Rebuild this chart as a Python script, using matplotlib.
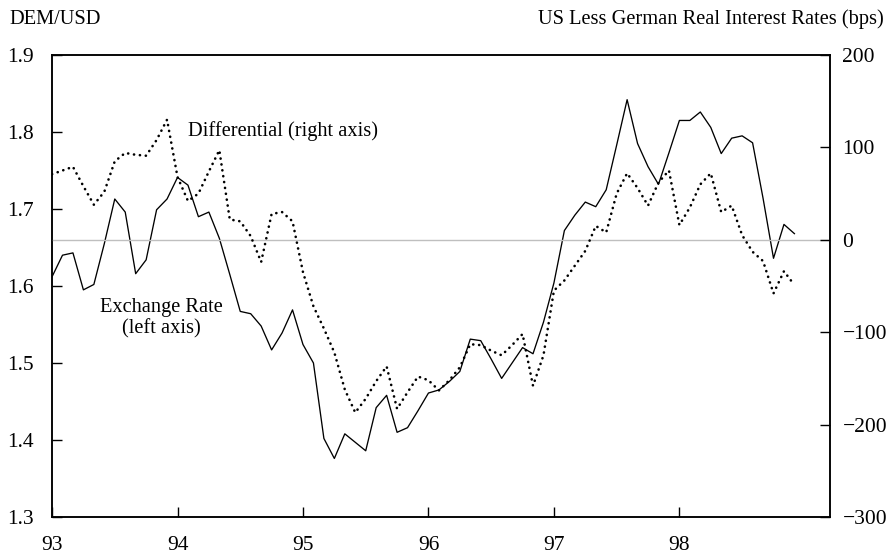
import numpy as np
import matplotlib
matplotlib.use("Agg")
import matplotlib.pyplot as plt

plt.rcParams['font.family'] = ['Liberation Serif', 'DejaVu Serif']

# monthly observations, Jan 1993 - Dec 1998
start_year = 93
months = np.arange(72)

# DEM/USD exchange rate (left axis)
exchange_rate = [
    1.612, 1.640, 1.643, 1.595, 1.602, 1.655, 1.713, 1.696, 1.616, 1.634, 1.699, 1.713,
    1.741, 1.731, 1.690, 1.696, 1.662, 1.615, 1.567, 1.564, 1.548, 1.517, 1.539, 1.569,
    1.524, 1.500, 1.402, 1.376, 1.408, 1.397, 1.386, 1.442, 1.458, 1.410, 1.416, 1.438,
    1.461, 1.465, 1.476, 1.489, 1.531, 1.529, 1.505, 1.480, 1.500, 1.520, 1.512, 1.553,
    1.604, 1.672, 1.692, 1.709, 1.703, 1.725, 1.783, 1.842, 1.785, 1.755, 1.732, 1.773,
    1.815, 1.815, 1.826, 1.806, 1.772, 1.792, 1.795, 1.786, 1.714, 1.636, 1.680, 1.668,
]

# US less German real interest rates, bps (right axis)
differential = [
    71, 75, 79, 58, 38, 52, 85, 94, 92, 91, 108, 130,
    68, 42, 50, 74, 97, 22, 20, 4, -24, 28, 30, 20,
    -35, -72, -96, -122, -162, -187, -172, -153, -137, -183, -165, -148,
    -152, -163, -152, -138, -113, -114, -120, -125, -114, -102, -158, -125,
    -55, -44, -28, -12, 15, 8, 50, 72, 56, 37, 62, 75,
    16, 35, 60, 72, 30, 37, 5, -13, -23, -58, -34, -49,
]

year_ticks = [93, 94, 95, 96, 97, 98]
left_ticks = [1.3, 1.4, 1.5, 1.6, 1.7, 1.8, 1.9]
right_ticks = [-300, -200, -100, 0, 100, 200]

x = start_year + months / 12.0

fig = plt.figure(figsize=(8.91, 5.54), dpi=100)
ax = fig.add_axes([0.0584, 0.0668, 0.8731, 0.8339])
ax2 = ax.twinx()

# zero line of the differential
ax2.axhline(0, color='#bfbfbf', lw=1.0, zorder=1)

ax.plot(x, exchange_rate, color='black', lw=0.95, zorder=3)
ax2.plot(x, differential, color='black', lw=1.9,
         linestyle=(0, (0.05, 2.2)), dash_capstyle='round', zorder=3)

ax.set_xlim(93, 99.2)
ax.set_ylim(1.3, 1.9)
ax2.set_ylim(-300, 200)

ax.set_xticks(year_ticks)
ax.set_xticklabels([str(y) for y in year_ticks])
ax.set_yticks(left_ticks)
ax.set_yticklabels(['%.1f' % v for v in left_ticks])
ax2.set_yticks(right_ticks)
ax2.set_yticklabels([('\u2212%d' % -v) if v < 0 else str(v) for v in right_ticks])

ax.tick_params(axis='x', direction='in', length=7, width=1, pad=14, labelsize=15.5)
ax.tick_params(axis='y', direction='in', length=7, width=1, pad=13, labelsize=15.5)
ax2.tick_params(axis='y', direction='in', length=7, width=1, pad=9, labelsize=15.5)
for lab in ax2.get_yticklabels():
    lab.set_ha('left')

for a in (ax, ax2):
    for s in a.spines.values():
        s.set_linewidth(1.1)
        s.set_color('black')

fig.text(9 / 891, 1 - 19 / 554, 'DEM/USD', fontsize=14.7, ha='left', va='center')
fig.text(884 / 891, 1 - 19 / 554, 'US Less German Real Interest Rates (bps)',
         fontsize=14.7, ha='right', va='center')

ax.text(93.0 + (188 - 52) / 125.5, 1.801, 'Differential (right axis)',
        fontsize=14.7, ha='left', va='center')
ax.text(93.0 + (161 - 52) / 125.5, 1.558, 'Exchange Rate\n(left axis)',
        fontsize=14.7, ha='center', va='center', linespacing=1.15)

fig.savefig('out.png', dpi=100)
